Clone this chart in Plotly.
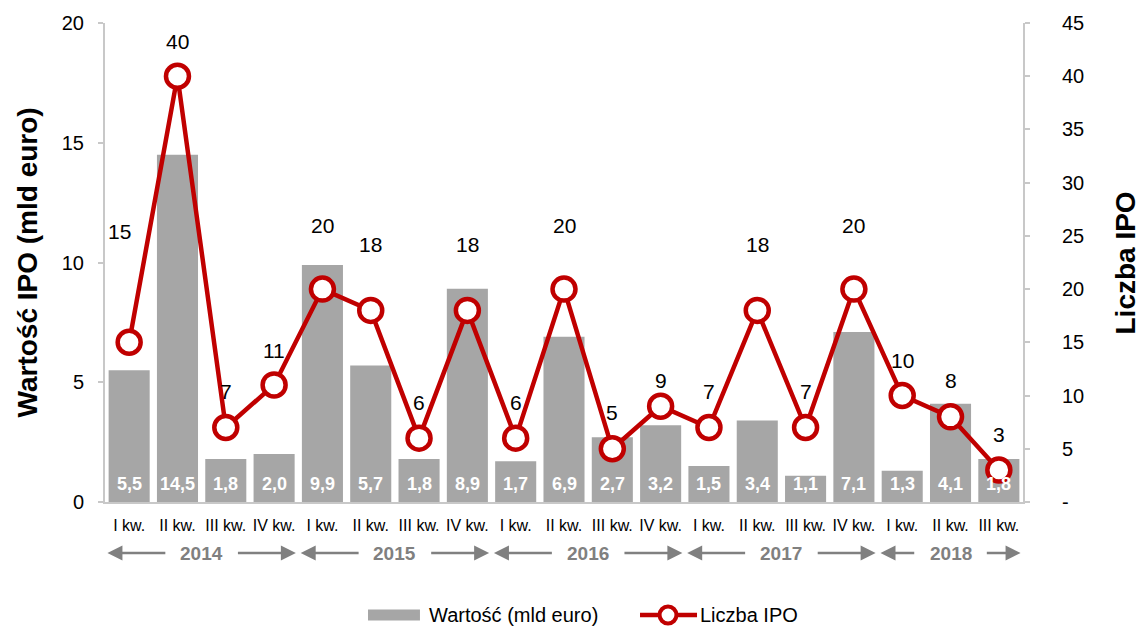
import plotly.graph_objects as go

quarters = ["I kw.", "II kw.", "III kw.", "IV kw.",
            "I kw.", "II kw.", "III kw.", "IV kw.",
            "I kw.", "II kw.", "III kw.", "IV kw.",
            "I kw.", "II kw.", "III kw.", "IV kw.",
            "I kw.", "II kw.", "III kw."]
values_bn = [5.5, 14.5, 1.8, 2.0, 9.9, 5.7, 1.8, 8.9, 1.7, 6.9, 2.7, 3.2,
             1.5, 3.4, 1.1, 7.1, 1.3, 4.1, 1.8]
ipo_count = [15, 40, 7, 11, 20, 18, 6, 18, 6, 20, 5, 9, 7, 18, 7, 20, 10, 8, 3]
years = ["2014", "2015", "2016", "2017", "2018"]
year_start = [0, 4, 8, 12, 16]
year_end = [3, 7, 11, 15, 18]
series_names = ["Wartość (mld euro)", "Liczba IPO"]

# label offsets (pixels above marker), layout only
label_dy = [111, 35, 36, 34, 64, 66, 36, 66, 36, 64, 36, 26, 36, 66, 36, 64, 35, 36, 36]
label_dx = [-10] + [0] * 18

FONT = "Liberation Sans, Arial, sans-serif"
BAR_COLOR = "#A6A6A6"
RED = "#C00000"
AXIS_COLOR = "#C8C8C8"
GRAY_TXT = "#808080"

xs = list(range(len(quarters)))

fig = go.Figure()
fig.add_trace(go.Bar(
    x=xs, y=values_bn, name=series_names[0],
    marker=dict(color=BAR_COLOR, line=dict(width=0)),
    width=0.85, yaxis="y", hoverinfo="skip", showlegend=False,
))
fig.add_trace(go.Scatter(
    x=xs, y=ipo_count, name=series_names[1], yaxis="y2",
    mode="lines+markers",
    line=dict(color=RED, width=4.5),
    marker=dict(symbol="circle", size=23, color="white",
                line=dict(color=RED, width=4.5)),
    hoverinfo="skip", showlegend=False,
))

annotations = []
# bar value labels
for i, v in enumerate(values_bn):
    annotations.append(dict(
        x=i, y=0, xref="x", yref="y", yshift=18,
        text=f"{v:.1f}".replace(".", ","), showarrow=False,
        font=dict(family=FONT, size=18, color="white", weight="bold"),
        xanchor="center", yanchor="middle",
    ))
# line value labels
for i, n in enumerate(ipo_count):
    annotations.append(dict(
        x=i, y=n, xref="x", yref="y2", yshift=label_dy[i], xshift=label_dx[i],
        text=str(n), showarrow=False,
        font=dict(family=FONT, size=21, color="#000000"),
        xanchor="center", yanchor="middle",
    ))
# year labels with arrows
YY = -0.1065
for lab, s, e in zip(years, year_start, year_end):
    c = (s + e) / 2
    annotations.append(dict(
        x=c, y=YY, xref="x", yref="paper", text=lab, showarrow=False,
        font=dict(family=FONT, size=19, color=GRAY_TXT, weight="bold"),
        xanchor="center", yanchor="middle",
    ))
    for head, tail in ((s - 0.45, c - 0.72), (e + 0.45, c + 0.72)):
        annotations.append(dict(
            x=head, y=YY, xref="x", yref="paper",
            ax=tail, ay=0, axref="x", ayref="pixel",
            text="", showarrow=True, arrowhead=2, arrowsize=1.2,
            arrowwidth=2.5, arrowcolor=GRAY_TXT, standoff=0, startstandoff=0,
        ))
# axis titles
annotations.append(dict(
    x=-0.0839, y=0.5, xref="paper", yref="paper", textangle=-90,
    text="Wartość IPO (mld euro)", showarrow=False,
    font=dict(family=FONT, size=28, color="#000000", weight="bold"),
    xanchor="center", yanchor="middle",
))
annotations.append(dict(
    x=1.1122, y=0.5, xref="paper", yref="paper", textangle=-90,
    text="Liczba IPO", showarrow=False,
    font=dict(family=FONT, size=28, color="#000000", weight="bold"),
    xanchor="center", yanchor="middle",
))

# custom legend (wide bar swatch + line/marker swatch)
LY = -0.2359
shapes = [
    dict(type="rect", xref="paper", yref="paper", x0=0.2865, x1=0.3431,
         y0=LY - 0.0115, y1=LY + 0.0115, fillcolor=BAR_COLOR, line=dict(width=0)),
    dict(type="line", xref="paper", yref="paper", x0=0.5828, x1=0.6449,
         y0=LY, y1=LY, line=dict(color=RED, width=4.5)),
    dict(type="circle", xref="paper", yref="paper", x0=0.6133 - 0.0092,
         x1=0.6133 + 0.0092, y0=LY - 0.0177, y1=LY + 0.0177,
         fillcolor="white", line=dict(color=RED, width=4)),
]
annotations.append(dict(
    x=0.3508, y=LY, xref="paper", yref="paper", text=series_names[0],
    showarrow=False, xanchor="left", yanchor="middle",
    font=dict(family=FONT, size=20, color="#000000"),
))
annotations.append(dict(
    x=0.6460, y=LY, xref="paper", yref="paper", text=series_names[1],
    showarrow=False, xanchor="left", yanchor="middle",
    font=dict(family=FONT, size=20, color="#000000"),
))

# page body adds an 8px offset, so the figure is shrunk to avoid overflow
fig.update_layout(
    width=1132, height=621,
    margin=dict(l=97, r=117, t=15, b=127, autoexpand=False),
    paper_bgcolor="white", plot_bgcolor="white",
    font=dict(family=FONT, color="#000000"),
    showlegend=False,
    xaxis=dict(
        range=[-0.5, 18.5], tickmode="array", tickvals=xs, ticktext=quarters,
        showline=True, linecolor=AXIS_COLOR, linewidth=2, ticks="",
        showgrid=False, zeroline=False, tickfont=dict(size=16),
        ticklabelstandoff=8, automargin=False,
    ),
    yaxis=dict(
        range=[0, 20], tickmode="array", tickvals=[0, 5, 10, 15, 20],
        showline=True, linecolor=AXIS_COLOR, linewidth=2,
        ticks="outside", ticklen=5, tickcolor=AXIS_COLOR, tickwidth=2,
        showgrid=False, zeroline=False, tickfont=dict(size=20),
        ticklabelstandoff=10, automargin=False,
    ),
    yaxis2=dict(
        range=[0, 45], overlaying="y", side="right", tickmode="array",
        tickvals=[0, 5, 10, 15, 20, 25, 30, 35, 40, 45],
        ticktext=["-", "5", "10", "15", "20", "25", "30", "35", "40", "45"],
        showline=True, linecolor=AXIS_COLOR, linewidth=2,
        ticks="outside", ticklen=5, tickcolor=AXIS_COLOR, tickwidth=2,
        showgrid=False, zeroline=False, tickfont=dict(size=20),
        ticklabelstandoff=28, automargin=False,
    ),
    annotations=annotations,
    shapes=shapes,
    bargap=0.15,
)

fig.write_html("out.html")
